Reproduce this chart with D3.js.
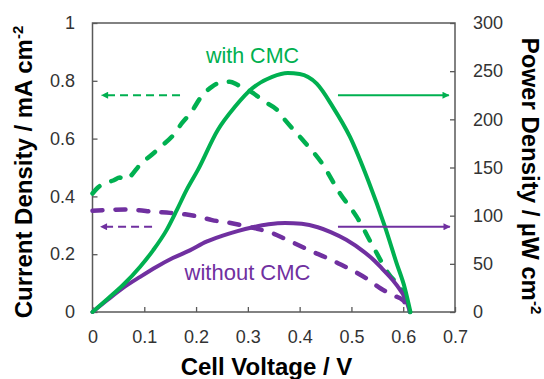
<!DOCTYPE html>
<html>
<head>
<meta charset="utf-8">
<script src="https://cdn.jsdelivr.net/npm/d3@7/dist/d3.min.js"></script>
<style>
  html, body { margin: 0; padding: 0; background: #fff; }
  svg { display: block; font-family: "Liberation Sans", Arial, sans-serif; }
</style>
</head>
<body>
<svg id="chart" width="544" height="379"></svg>
<script>
// ---------- data ----------
const xTicks = [0, 0.1, 0.2, 0.3, 0.4, 0.5, 0.6, 0.7];
const leftTicks = [0, 0.2, 0.4, 0.6, 0.8, 1];
const rightTicks = [0, 50, 100, 150, 200, 250, 300];

// Current density (mA cm-2), with CMC (dashed green)
const currWithV = [0, 0.01, 0.024, 0.04, 0.053, 0.062, 0.072, 0.092, 0.115, 0.134, 0.155, 0.173, 0.192, 0.208, 0.231, 0.252, 0.265, 0.281, 0.308, 0.333, 0.356, 0.372, 0.406, 0.443, 0.478, 0.51, 0.542, 0.571, 0.6, 0.613];
const currWithI = [0.41, 0.43, 0.446, 0.455, 0.465, 0.458, 0.468, 0.51, 0.545, 0.575, 0.61, 0.654, 0.695, 0.74, 0.78, 0.796, 0.797, 0.785, 0.76, 0.727, 0.70, 0.664, 0.595, 0.515, 0.41, 0.33, 0.226, 0.134, 0.065, 0];

// Current density, without CMC (dashed purple)
const currWithoutV = [0, 0.03, 0.063, 0.09, 0.115, 0.15, 0.179, 0.205, 0.231, 0.26, 0.289, 0.318, 0.347, 0.372, 0.397, 0.423, 0.449, 0.475, 0.501, 0.53, 0.555, 0.58, 0.6, 0.612];
const currWithoutI = [0.35, 0.353, 0.355, 0.352, 0.347, 0.343, 0.338, 0.33, 0.318, 0.31, 0.30, 0.288, 0.273, 0.253, 0.232, 0.21, 0.19, 0.168, 0.145, 0.115, 0.083, 0.058, 0.04, 0];

// Power density (µW cm-2), with CMC (solid green)
const powWithV = [0, 0.03, 0.059, 0.092, 0.117, 0.143, 0.163, 0.182, 0.203, 0.242, 0.275, 0.308, 0.347, 0.377, 0.40, 0.433, 0.464, 0.497, 0.532, 0.565, 0.587, 0.603, 0.614];
const powWithP = [0, 14, 28, 47, 64, 85, 106, 127, 147, 189, 213, 232, 244, 248, 247, 237, 213, 182, 137, 88, 51, 25, 0];

// Power density, without CMC (solid purple)
const powWithoutV = [0, 0.03, 0.059, 0.092, 0.124, 0.155, 0.188, 0.22, 0.25, 0.28, 0.31, 0.34, 0.372, 0.404, 0.435, 0.46, 0.49, 0.523, 0.545, 0.561, 0.58, 0.594, 0.605, 0.613];
const powWithoutP = [0, 13, 25, 36.5, 47, 56, 64, 73, 79, 84, 88, 91, 92.4, 91.5, 88, 83, 75, 63, 53, 44, 33, 23, 13, 0];

// Arrow annotations (level on left axis, start V, tip V)
const arrowLevels = [0.75, 0.295];
const arrowLeftSpan = [[0.169, 0.018], [0.115, 0.016]];
const arrowRightSpan = [[0.474, 0.688], [0.474, 0.69]];

const seriesNames = ["with CMC", "without CMC"];
const seriesColors = ["#00B050", "#7030A0"];

// ---------- layout ----------
const svg = d3.select("#chart");
const L = 92.5, R = 455, T = 23, B = 312;
const x = d3.scaleLinear().domain([0, 0.7]).range([L, R]);
const yL = d3.scaleLinear().domain([0, 1]).range([B, T]);
const yR = d3.scaleLinear().domain([0, 300]).range([B, T]);

svg.append("rect").attr("width", 544).attr("height", 379).attr("fill", "#fff");

const axisColor = "#595959";
const tickFont = 18;

function styleAxis(g) {
  g.select(".domain").remove();
  g.selectAll(".tick line").attr("stroke", axisColor).attr("stroke-width", 1.3);
  g.selectAll(".tick text").attr("fill", "#333").attr("font-size", tickFont)
    .attr("font-family", "Liberation Sans, Arial, sans-serif");
}
const fmt = d => (d === 0 || d === 1) ? String(d) : d3.format(".1f")(d);

svg.append("g").attr("transform", `translate(0,${B})`)
  .call(d3.axisBottom(x).tickValues(xTicks).tickFormat(fmt).tickSizeInner(-5).tickSizeOuter(0).tickPadding(18.5))
  .call(styleAxis);
svg.append("g").attr("transform", `translate(${L},0)`)
  .call(d3.axisLeft(yL).tickValues(leftTicks).tickFormat(fmt).tickSizeInner(-5).tickSizeOuter(0).tickPadding(17.5))
  .call(styleAxis);
svg.append("g").attr("transform", `translate(${R},0)`)
  .call(d3.axisRight(yR).tickValues(rightTicks).tickFormat(d3.format("d")).tickSizeInner(-5).tickSizeOuter(0).tickPadding(18))
  .call(styleAxis);

// frame
svg.append("rect").attr("x", L).attr("y", T).attr("width", R - L).attr("height", B - T)
  .attr("fill", "none").attr("stroke", axisColor).attr("stroke-width", 1.5);

// ---------- curves ----------
const zip = (a, b) => a.map((v, i) => [v, b[i]]);
const lineL = d3.line().x(d => x(d[0])).y(d => yL(d[1])).curve(d3.curveMonotoneX);
const lineR = d3.line().x(d => x(d[0])).y(d => yR(d[1])).curve(d3.curveMonotoneX);

const plot = svg.append("g");
plot.append("path").datum(zip(currWithoutV, currWithoutI)).attr("d", lineL)
  .attr("fill", "none").attr("stroke", seriesColors[1]).attr("stroke-width", 4.5)
  .attr("stroke-dasharray", "10,13").attr("stroke-linecap", "round");
plot.append("path").datum(zip(currWithV, currWithI)).attr("d", lineL)
  .attr("fill", "none").attr("stroke", seriesColors[0]).attr("stroke-width", 4.5)
  .attr("stroke-dasharray", "10,13").attr("stroke-linecap", "round");
plot.append("path").datum(zip(powWithoutV, powWithoutP)).attr("d", lineR)
  .attr("fill", "none").attr("stroke", seriesColors[1]).attr("stroke-width", 4)
  .attr("stroke-linecap", "round");
plot.append("path").datum(zip(powWithV, powWithP)).attr("d", lineR)
  .attr("fill", "none").attr("stroke", seriesColors[0]).attr("stroke-width", 4)
  .attr("stroke-linecap", "round");

// ---------- arrows ----------
const defs = svg.append("defs");
seriesColors.forEach((c, i) => {
  defs.append("marker").attr("id", "ah" + i)
    .attr("viewBox", "0 0 10 10").attr("refX", 9).attr("refY", 5)
    .attr("markerWidth", 8).attr("markerHeight", 7).attr("markerUnits", "userSpaceOnUse")
    .attr("orient", "auto")
    .append("path").attr("d", "M0,0 L10,5 L0,10 Z").attr("fill", c);
});
arrowLevels.forEach((lv, i) => {
  const yy = yL(lv);
  svg.append("line").attr("x1", x(arrowLeftSpan[i][0])).attr("x2", x(arrowLeftSpan[i][1]))
    .attr("y1", yy).attr("y2", yy).attr("stroke", seriesColors[i]).attr("stroke-width", 2)
    .attr("stroke-dasharray", "8,5").attr("marker-end", `url(#ah${i})`);
  svg.append("line").attr("x1", x(arrowRightSpan[i][0])).attr("x2", x(arrowRightSpan[i][1]))
    .attr("y1", yy).attr("y2", yy).attr("stroke", seriesColors[i]).attr("stroke-width", 2)
    .attr("marker-end", `url(#ah${i})`);
});

// ---------- series labels ----------
svg.append("text").attr("x", 252.5).attr("y", 63).attr("text-anchor", "middle")
  .attr("font-size", 21.5).attr("fill", seriesColors[0]).text(seriesNames[0]);
svg.append("text").attr("x", 247.5).attr("y", 280).attr("text-anchor", "middle")
  .attr("font-size", 22).attr("fill", seriesColors[1]).text(seriesNames[1]);

// ---------- axis titles ----------
svg.append("text").attr("x", 266.5).attr("y", 375).attr("text-anchor", "middle")
  .attr("font-size", 24).attr("font-weight", "bold").attr("fill", "#000").text("Cell Voltage / V");

const lt = svg.append("text").attr("transform", "translate(32,172) rotate(-90)")
  .attr("text-anchor", "middle").attr("font-size", 24).attr("font-weight", "bold").attr("fill", "#000");
lt.append("tspan").text("Current Density / mA cm");
lt.append("tspan").attr("font-size", 15).attr("dy", -9).text("-2");

const rt = svg.append("text").attr("transform", "translate(522,176) rotate(90)")
  .attr("text-anchor", "middle").attr("font-size", 24).attr("font-weight", "bold").attr("fill", "#000");
rt.append("tspan").text("Power Density / µW cm");
rt.append("tspan").attr("font-size", 15).attr("dy", -9).text("-2");
</script>
</body>
</html>
